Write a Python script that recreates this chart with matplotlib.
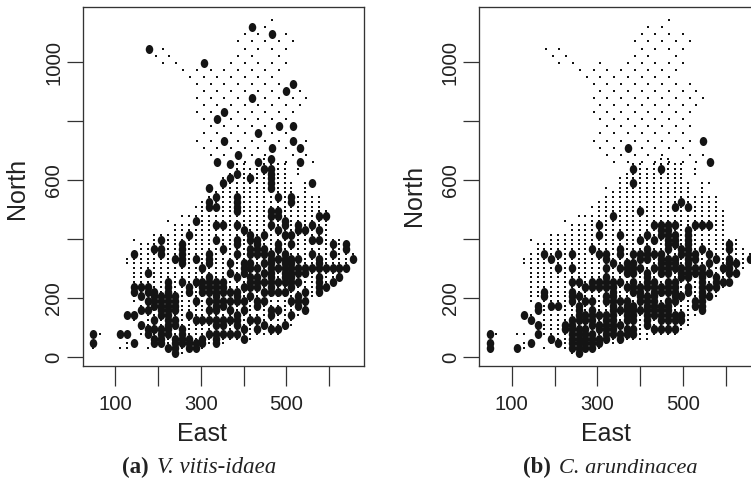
import matplotlib
matplotlib.use('Agg')
import matplotlib.pyplot as plt
from matplotlib.path import Path

# survey grid of the southern part, columns and rows
grid_east = [48, 64, 80, 96, 112, 128, 144, 160, 176, 192, 208, 224, 240, 256, 272, 288, 304, 320, 336, 352,
             368, 384, 400, 416, 432, 448, 464, 480, 496, 512, 528, 544, 560, 576, 592, 608, 624, 640, 656]
grid_north = [15, 31, 47, 63, 79, 95, 111, 127, 143, 159, 175, 191, 207, 223, 239, 255, 271, 287, 303, 319, 335,
              351, 367, 383, 399, 415, 431, 447, 463, 479, 495, 511, 527, 543, 559, 575, 591, 607, 623, 639, 655, 671]

# occupied rows in each column (first, last)
south_sites = {0: [(1, 2), (4, 4)], 1: [(4, 4)], 4: [(1, 1), (4, 4)], 5: [(1, 2), (4, 4), (19, 20)],
               6: [(2, 2), (7, 8), (11, 21), (24, 24)], 7: [(4, 6), (9, 10), (12, 23)], 8: [(1, 1), (4, 23)],
               9: [(2, 25)], 10: [(2, 25)], 11: [(1, 25), (28, 28)], 12: [(0, 27)], 13: [(0, 27), (29, 29)],
               14: [(1, 27), (29, 29)], 15: [(1, 29), (31, 31)], 16: [(1, 32)], 17: [(2, 33), (35, 35)],
               18: [(2, 34)], 19: [(2, 37)], 20: [(3, 38)], 21: [(3, 40)], 22: [(3, 40)], 23: [(3, 39)],
               24: [(4, 40)], 25: [(4, 41)], 26: [(4, 41)], 27: [(4, 40)], 28: [(5, 40)], 29: [(6, 36)],
               30: [(8, 33), (38, 39)], 31: [(9, 36)], 32: [(12, 33), (36, 36)], 33: [(12, 33)], 34: [(14, 30)],
               35: [(15, 24)], 36: [(16, 24)], 37: [(18, 22)], 38: [(20, 21)]}

# northern sites are sparser, east values per north row
north_sites = {1143: [467], 1119: [419, 451], 1095: [403, 435, 467, 499], 1071: [387, 419, 451, 483, 515],
               1047: [179, 211, 403, 435, 467, 499], 1023: [195, 227, 387, 419, 483],
               999: [211, 243, 307, 371, 403, 435, 467, 499], 975: [259, 291, 323, 355, 387, 419, 451, 483],
               951: [275, 307, 339, 371, 403, 435, 467], 927: [291, 323, 355, 387, 419, 451, 483, 515],
               903: [307, 339, 371, 403, 435, 467, 499, 531], 879: [291, 323, 355, 387, 419, 451, 483, 515, 547],
               855: [307, 339, 371, 403, 435, 467, 499, 531], 831: [291, 323, 355, 387, 419, 451, 483, 515],
               807: [307, 339, 371, 403, 435, 467, 499], 783: [323, 355, 387, 419, 451, 483, 515],
               759: [307, 339, 371, 403, 435, 467, 499], 735: [291, 323, 355, 387, 419, 451, 483, 515, 547],
               711: [307, 339, 371, 403, 435, 467, 499], 687: [323, 355, 387, 419, 451, 515, 547],
               663: [339, 371, 403, 435, 467, 499, 531, 563]}

# present sites, V. vitis-idaea
present_a = {0: [4, 2], 4: [4], 5: [4, 8], 6: [21, 14, 13, 8, 2], 7: [14, 12, 9, 6], 8: [17, 14, 13, 11, 9, 5, 4],
             9: [22, 13, 12, 11, 10, 7, 5, 3, 2], 10: [24, 22, 21, 12, 11, 10, 9, 8, 5, 4, 3, 2],
             11: [15, 14, 13, 12, 11, 10, 9, 8, 7, 6, 5, 4, 1], 12: [20, 12, 11, 10, 9, 7, 6, 3, 2, 1, 0],
             13: [23, 22, 21, 20, 19, 15, 5, 4, 3, 2], 14: [25, 14, 13, 8, 3, 2, 1], 15: [28, 20, 15, 11, 7, 2, 1],
             16: [18, 15, 14, 13, 7, 3, 2], 17: [35, 32, 31, 21, 20, 19, 16, 15, 14, 13, 11, 9, 7, 4],
             18: [33, 31, 27, 24, 15, 14, 13, 12, 11, 10, 9, 7, 6, 4, 3, 2], 19: [36, 27, 22, 15, 14, 13, 11, 10, 7, 6, 4],
             20: [40, 37, 19, 17, 13, 11, 9, 7, 4], 21: [38, 33, 32, 31, 30, 27, 24, 23, 21, 16, 13, 12, 11, 8, 7, 6, 4],
             22: [26, 19, 18, 17, 14, 11, 9, 5, 3], 23: [37, 25, 24, 22, 21, 19, 18, 16, 15, 14, 12, 7],
             24: [24, 23, 22, 21, 18, 16, 15, 14, 11, 10, 7, 5], 25: [39, 25, 22, 21, 19, 17, 15, 13, 11, 6],
             26: [41, 39, 38, 37, 36, 35, 30, 29, 27, 21, 20, 19, 18, 17, 16, 15, 14, 13, 9, 8, 5],
             27: [33, 30, 29, 26, 23, 22, 20, 18, 15, 13, 9, 5], 28: [28, 27, 25, 21, 20, 19, 18, 17, 16, 15, 13, 6],
             29: [33, 32, 25, 23, 20, 19, 18, 17, 16, 15, 14, 11, 8], 30: [27, 26, 20, 18, 17, 15, 12, 11, 10],
             31: [26, 18, 17, 13, 11, 9], 32: [36, 27, 24, 21, 18], 33: [29, 26, 24, 20, 19, 18, 16, 15, 14, 13],
             34: [29, 18, 14], 35: [23, 21, 18, 15], 36: [18, 16], 37: [23, 22, 18], 38: [20]}
present_north_a = [(419, 1119), (467, 1095), (179, 1047), (307, 999), (515, 927), (499, 903), (419, 879), (355, 831),
                   (339, 807), (483, 783), (515, 783), (435, 759), (355, 735), (515, 735), (531, 711), (467, 711),
                   (387, 687), (339, 663), (435, 663), (531, 663)]

# present sites, C. arundinacea
present_b = {0: [4, 2, 1], 4: [1], 5: [8], 6: [7, 2], 7: [10, 9, 6, 4], 8: [21, 13, 12], 9: [20, 10, 3],
             10: [21, 18, 10, 2], 11: [6, 5], 12: [21, 18, 15, 13, 12, 11, 7, 6, 5, 4, 3, 2, 1],
             13: [15, 12, 10, 9, 8, 7, 5, 4, 3, 2, 1, 0], 14: [14, 11, 8, 7, 5, 4, 3, 2, 1],
             15: [22, 15, 14, 11, 9, 8, 7, 6, 4, 3, 2, 1], 16: [27, 25, 21, 15, 14, 8, 6, 5, 3, 2],
             17: [21, 20, 18, 16, 15, 14, 12, 11, 8, 7, 6, 5, 4, 3], 18: [29, 19, 15, 14, 13, 12, 11, 10, 9, 8, 7, 6, 5, 4],
             19: [25, 22, 21, 18, 15, 11, 9, 6, 4, 3], 20: [19, 18, 17, 14, 11, 10, 9, 8, 7, 5, 4],
             21: [39, 36, 21, 19, 18, 17, 15, 14, 13, 10, 9, 8, 7, 5, 4], 22: [30, 24, 21, 20, 18, 14, 13, 12, 11, 9],
             23: [25, 22, 21, 20, 17, 16, 15, 14, 12, 11, 10, 9, 8, 7, 6], 24: [27, 24, 21, 18, 15, 14, 13, 12, 11, 10, 9, 8, 5],
             25: [39, 27, 26, 25, 21, 20, 19, 18, 17, 14, 13, 10, 9, 8, 7, 5],
             26: [27, 26, 25, 24, 23, 22, 20, 19, 18, 17, 15, 14, 13, 11, 10, 9, 8, 7, 5],
             27: [31, 27, 25, 24, 23, 20, 19, 18, 15, 14, 13, 12, 11, 8, 7, 5], 28: [32, 22, 21, 18, 17, 16, 12, 8, 7],
             29: [31, 26, 25, 24, 23, 22, 21, 20, 19, 18, 17, 16, 14, 13], 30: [27, 21, 20, 18, 17, 11, 10],
             31: [27, 22, 18, 17, 16, 15, 14, 13, 12, 11, 10, 9], 32: [27, 21, 19, 17, 14, 12], 33: [20, 16, 15, 14],
             34: [18, 15], 35: [23, 22, 20, 19, 18, 17, 15], 36: [19, 17], 38: [20]}
present_north_b = [(371, 711), (547, 735), (563, 663)]

x_ticks = [100, 200, 300, 400, 500, 600]
x_labels = ['100', '', '300', '', '500', '']
y_ticks = [0, 200, 400, 600, 800, 1000]
y_labels = ['0', '200', '', '600', '', '1000']

W, H = 751, 479
INK = '#141414'
SANS = 'Liberation Sans'
SERIF = 'Liberation Serif'

# ellipse a little taller than wide
OVAL = Path(Path.unit_circle().vertices * [1.0, 1.2], Path.unit_circle().codes)


def draw_panel(left, present, present_north):
    ax = fig.add_axes([left / W, (H - 366) / H, 281.2 / W, 359.3 / H])

    xs = [grid_east[k] for k, spans in south_sites.items() for lo, hi in spans for j in range(lo, hi + 1)]
    ys = [grid_north[j] for k, spans in south_sites.items() for lo, hi in spans for j in range(lo, hi + 1)]
    xs += [e for n, row in north_sites.items() for e in row]
    ys += [n for n, row in north_sites.items() for e in row]
    ax.plot(xs, ys, ls='none', marker='s', ms=2.1, mew=0, color=INK)

    bx = [grid_east[k] for k, rows in present.items() for j in rows] + [p[0] for p in present_north]
    by = [grid_north[j] for k, rows in present.items() for j in rows] + [p[1] for p in present_north]
    ax.plot(bx, by, ls='none', marker=OVAL, ms=6.5, mew=0, color=INK)

    ax.set_xlim(24, 680.7)
    ax.set_ylim(-29.5, 1189)
    ax.set_xticks(x_ticks)
    ax.set_xticklabels(x_labels, family=SANS, fontsize=14.6, color='#222222')
    ax.set_yticks(y_ticks)
    ax.set_yticklabels(y_labels, family=SANS, fontsize=14.6, color='#222222', rotation=90, va='center')
    ax.tick_params(axis='x', length=14.4, width=0.9, color='#333333', pad=6.5)
    ax.tick_params(axis='y', length=11.5, width=0.9, color='#333333', pad=2.5)
    for s in ax.spines.values():
        s.set_linewidth(0.95)
        s.set_color('#333333')
    return ax


fig = plt.figure(figsize=(W / 100, H / 100), dpi=100)
draw_panel(82.5, present_a, present_north_a)
draw_panel(479.3, present_b, present_north_b)

fig.text(201.7 / W, 1 - 434 / H, 'East', family=SANS, fontsize=18, color='#222222', ha='center', va='center')
fig.text(606 / W, 1 - 434 / H, 'East', family=SANS, fontsize=18, color='#222222', ha='center', va='center')
fig.text(17 / W, 1 - 188 / H, 'North', family=SANS, fontsize=18, color='#222222', rotation=90, ha='center', va='center')
fig.text(413.7 / W, 1 - 195 / H, 'North', family=SANS, fontsize=18, color='#222222', rotation=90, ha='center', va='center')

fig.text(122 / W, 1 - 473 / H, '(a)', family=SERIF, fontsize=16.5, weight='bold', color='#222222', va='baseline')
fig.text(157 / W, 1 - 473 / H, 'V. vitis-idaea', family=SERIF, fontsize=16.5, style='italic', color='#222222', va='baseline')
fig.text(522.7 / W, 1 - 473 / H, '(b)', family=SERIF, fontsize=16.5, weight='bold', color='#222222', va='baseline')
fig.text(559 / W, 1 - 473 / H, 'C. arundinacea', family=SERIF, fontsize=16, style='italic', color='#222222', va='baseline')

plt.savefig('out.png', dpi=100)
